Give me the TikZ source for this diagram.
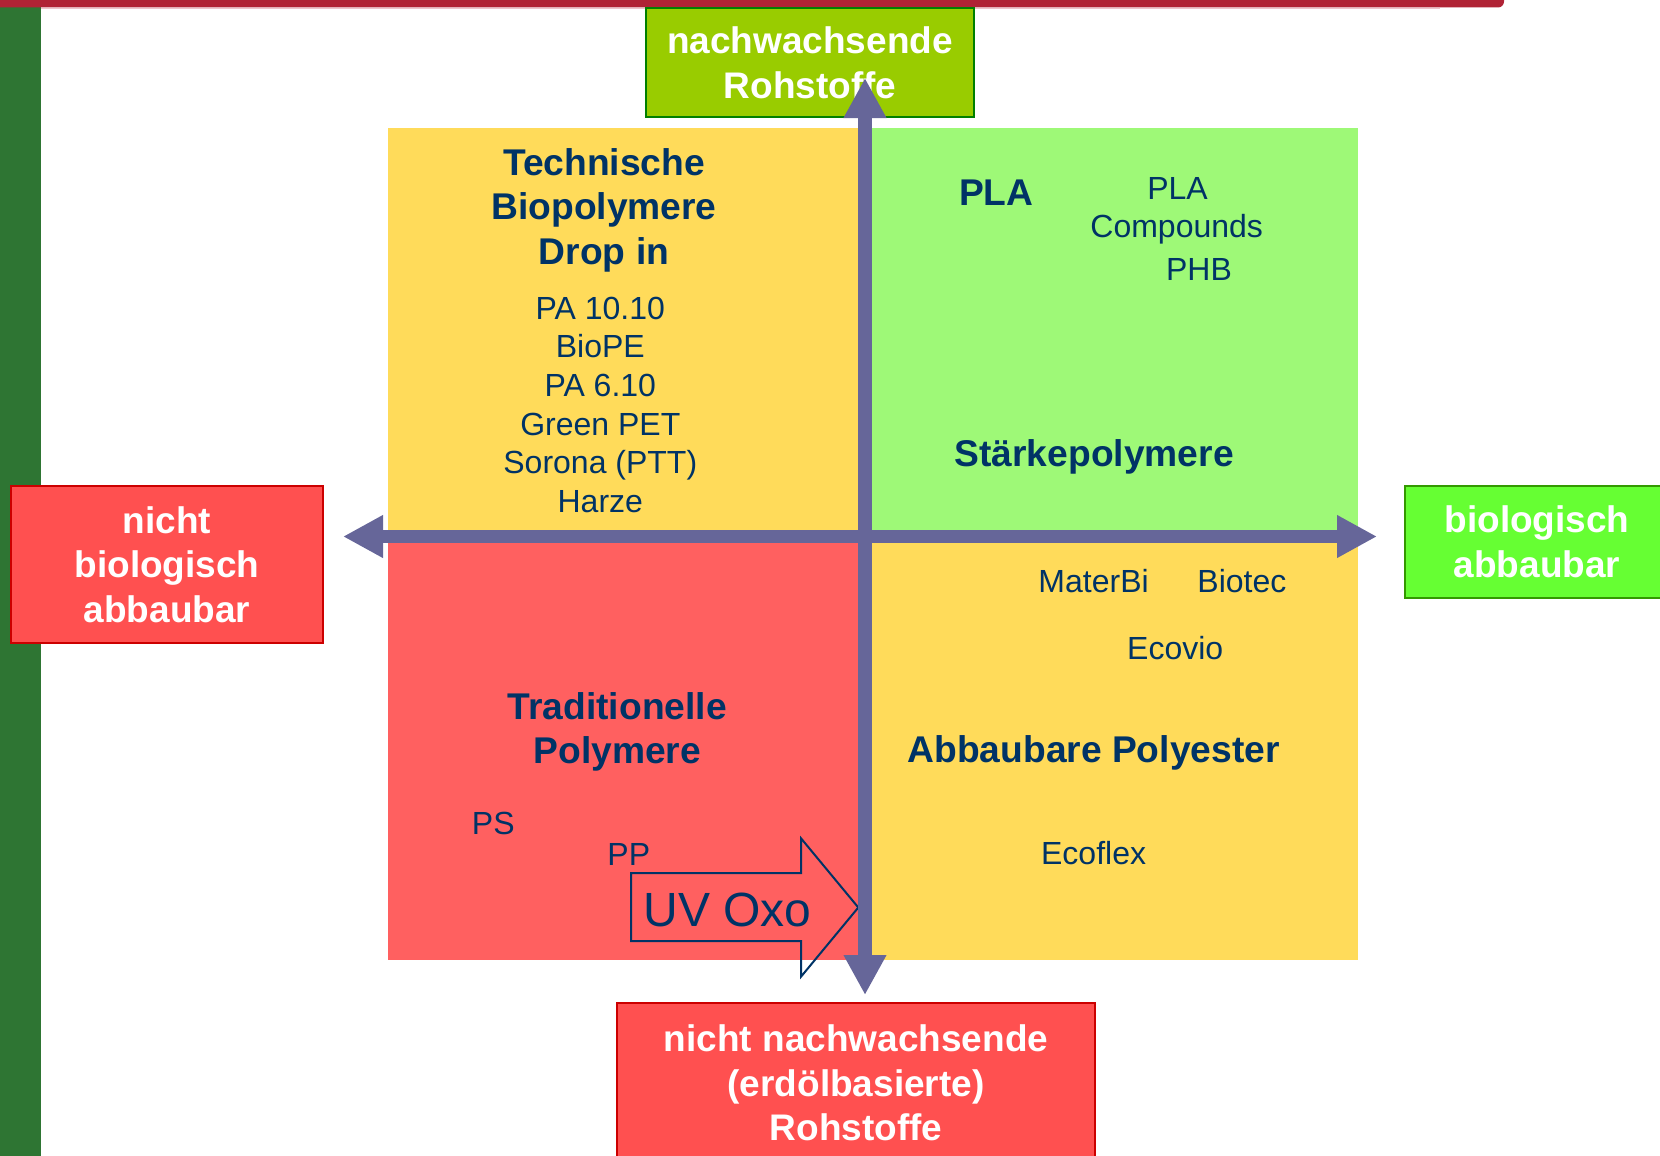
\documentclass[tikz,border=0pt]{standalone}
\usepackage{fontspec}
\setmainfont{Liberation Sans}
\usetikzlibrary{arrows.meta}
\definecolor{navy}{HTML}{003366}
\definecolor{axiscol}{HTML}{666699}
\definecolor{qyellow}{HTML}{FFDB5A}
\definecolor{qgreen}{HTML}{9EF977}
\definecolor{qred}{HTML}{FF6060}
\definecolor{lred}{HTML}{FF5050}
\definecolor{lredb}{HTML}{CC0000}
\definecolor{lgreen}{HTML}{66FF33}
\definecolor{lgreenb}{HTML}{339900}
\definecolor{tgreen}{HTML}{99CC00}
\definecolor{tgreenb}{HTML}{008000}
\definecolor{gbar}{HTML}{2E7533}
\definecolor{rbar}{HTML}{B02335}
\definecolor{pinkline}{HTML}{EEC4CA}
\newcommand\myfs[2]{\fontsize{#1}{#2}\selectfont}
\begin{document}
\begin{tikzpicture}[x=1pt,y=-1pt,
  lbl/.style={font=\myfs{37}{44.7}\bfseries, text=white, align=center, inner sep=0pt, line width=2.5pt},
  qtxt/.style={text=navy, anchor=base, inner sep=0pt, font=\myfs{32}{38.6}},
  qhead/.style={text=navy, anchor=base, inner sep=0pt, font=\myfs{37.2}{44}\bfseries},
  axisarrow/.style={draw=axiscol, {Triangle[length=40pt,width=40pt]}-{Triangle[length=40pt,width=40pt]}}
]
\useasboundingbox (0,0) rectangle (1660,1156);
\clip (0,0) rectangle (1660,1156);

% quadrants
\fill[qyellow] (388,128) rectangle (858,531);
\fill[qgreen] (872,128) rectangle (1358,531);
\fill[qred] (388,542) rectangle (858,960);
\fill[qyellow] (872,542) rectangle (1358,960);

% frame bars
\fill[gbar] (0,7) rectangle (40.7,1156);
\fill[rbar, rounded corners=6pt] (-10,-10) rectangle (1504,7.5);
\draw[pinkline, line width=1pt] (41,8.5) -- (1440,8.5);

% label boxes
\node[lbl, fill=tgreen, draw=tgreenb, minimum width=328, minimum height=109] (nachw) at (810,62.5) {nachwachsende\\Rohstoffe};
\node[lbl, fill=lred, draw=lredb, minimum width=312, minimum height=157] (nbio) at (167,564.5) {nicht\\biologisch\\abbaubar};
\node[lbl, fill=lgreen, draw=lgreenb, minimum width=264, minimum height=112] (bio) at (1537,542) {biologisch\\abbaubar};
\node[lbl, fill=lred, draw=lredb, minimum width=478, minimum height=160] (nnachw) at (856,1083) {nicht nachwachsende\\(erdölbasierte)\\Rohstoffe};

% top-left quadrant
\node[qhead] (tl1) at (604,175) {Technische};
\node[qhead] (tl2) at (604,219.5) {Biopolymere};
\node[qhead] (tl3) at (604,264) {Drop in};
\node[qtxt] (pa1010) at (600.3,319.3) {PA 10.10};
\node[qtxt] (biope) at (600.3,357.9) {BioPE};
\node[qtxt] (pa610) at (600.3,396.5) {PA 6.10};
\node[qtxt] (gpet) at (600.3,435.1) {Green PET};
\node[qtxt] (sorona) at (600.3,473.7) {Sorona (PTT)};
\node[qtxt] (harze) at (600.3,512.3) {Harze};

% top-right quadrant
\node[qhead] (pla) at (996.2,205) {PLA};
\node[qtxt] (plac1) at (1177.5,199) {PLA};
\node[qtxt] (plac2) at (1176.7,237.3) {Compounds};
\node[qtxt] (phb) at (1199,280) {PHB};
\node[qhead] (staerke) at (1094.2,466.7) {Stärkepolymere};

% bottom-right quadrant
\node[qtxt] (materbi) at (1093.6,592) {MaterBi};
\node[qtxt] (biotec) at (1241.9,592) {Biotec};
\node[qtxt] (ecovio) at (1175.2,659) {Ecovio};
\node[qhead] (abbau) at (1093.6,762.6) {Abbaubare Polyester};
\node[qtxt] (ecoflex) at (1093.6,864.3) {Ecoflex};

% bottom-left quadrant
\node[qhead] (trad1) at (617.2,719) {Traditionelle};
\node[qhead] (trad2) at (617.2,763.6) {Polymere};
\node[qtxt] (ps) at (493.3,834.3) {PS};
\node[qtxt] (pp) at (628.8,865) {PP};

% UV Oxo arrow
\draw[navy, line width=2pt, line join=miter] (631,873) -- (801,873) -- (801,838.3) -- (858.3,907.5) -- (801,976.7) -- (801,941) -- (631,941) -- cycle;
\node[qtxt, font=\myfs{48}{56}] (uvoxo) at (727.5,926) {UV Oxo};

% axes
\coordinate (axL) at (343,536.5);
\coordinate (axR) at (1377,536.5);
\coordinate (axT) at (865,78);
\coordinate (axB) at (865,995);
\draw[axisarrow, line width=13pt] (axL) -- (axR);
\draw[axisarrow, line width=14pt] (axB) -- (axT);
\end{tikzpicture}
\end{document}
